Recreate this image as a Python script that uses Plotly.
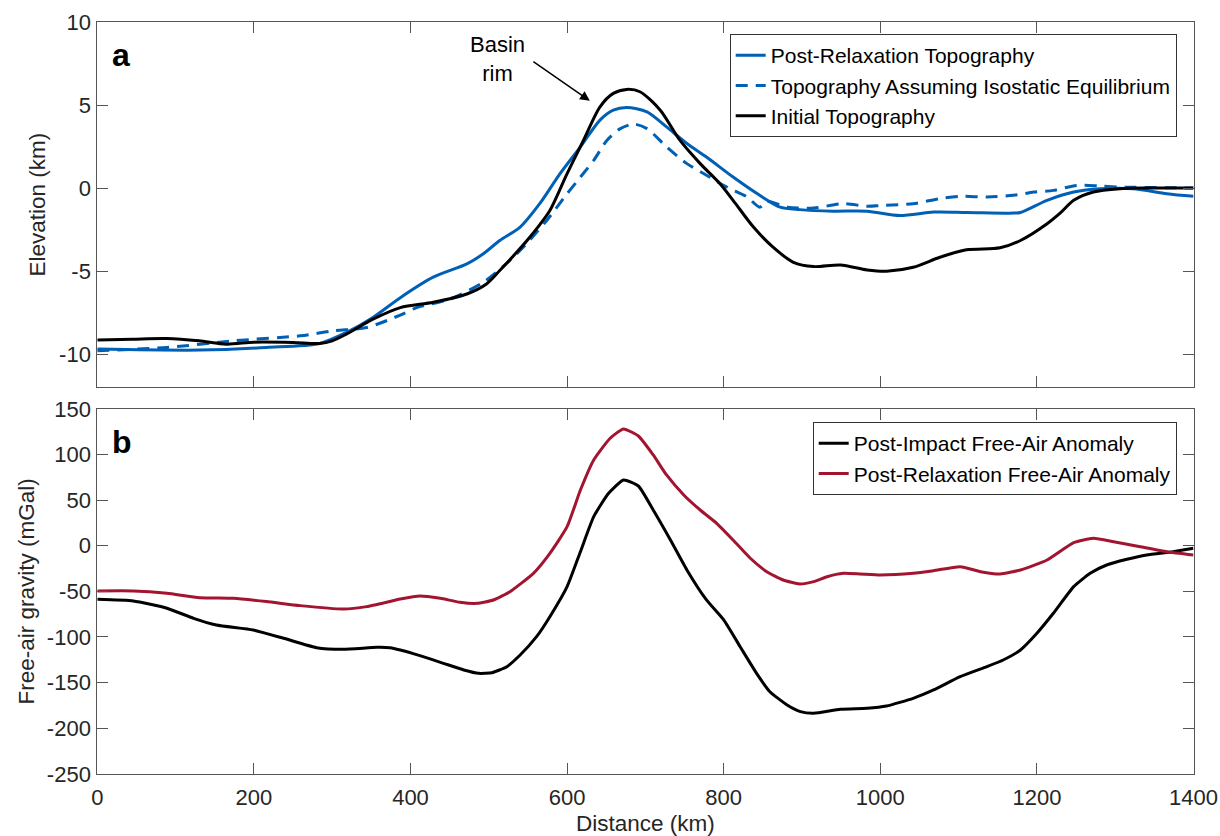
import plotly.graph_objects as go

# ---- Panel a: topography profiles (km) ----
initial_x = [0, 45, 89, 130, 165, 200, 250, 284, 300, 318, 352, 387, 429, 472, 497, 514, 535,
             556, 578, 600, 621, 642, 659, 676, 693, 719, 744, 770, 795, 812, 838, 863, 889,
             915, 949, 983, 1008, 1042, 1076, 1110, 1153, 1179, 1213, 1230, 1247, 1272, 1306,
             1340, 1400]
initial_z = [-9.15, -9.1, -9.06, -9.2, -9.4, -9.28, -9.3, -9.36, -9.2, -8.8, -7.9, -7.2, -6.88,
             -6.38, -5.78, -4.97, -3.9, -2.75, -1.35, 0.87, 2.88, 4.89, 5.7, 5.94, 5.8, 4.69,
             2.88, 1.47, 0.27, -0.74, -2.35, -3.56, -4.47, -4.73, -4.63, -4.93, -5.01, -4.77,
             -4.17, -3.72, -3.6, -3.16, -2.15, -1.5, -0.74, -0.24, -0.04, 0.0, 0.0]

relaxed_x = [0, 131, 216, 284, 318, 352, 387, 429, 472, 493, 514, 540, 565, 591, 617, 642, 659,
             676, 702, 727, 753, 778, 812, 846, 872, 897, 940, 983, 1025, 1068, 1110, 1170,
             1179, 1213, 1247, 1281, 1323, 1366, 1400]
relaxed_z = [-9.7, -9.76, -9.6, -9.36, -8.7, -7.79, -6.6, -5.37, -4.57, -3.96, -3.16, -2.35,
             -0.94, 0.87, 2.48, 4.09, 4.69, 4.85, 4.59, 3.68, 2.68, 1.87, 0.66, -0.44, -1.15,
             -1.3, -1.39, -1.39, -1.65, -1.45, -1.47, -1.51, -1.47, -0.74, -0.24, -0.04, -0.04,
             -0.34, -0.5]

isostatic_x = [0, 89, 174, 259, 301, 344, 387, 408, 451, 493, 522, 548, 574, 600, 617, 634, 651,
               668, 685, 702, 727, 753, 778, 804, 830, 846, 855, 881, 915, 953, 983, 1002, 1042,
               1076, 1102, 1136, 1170, 1196, 1221, 1251, 1281, 1306, 1366, 1400]
isostatic_z = [-9.8, -9.6, -9.2, -8.9, -8.6, -8.4, -7.65, -7.2, -6.68, -5.67, -4.57, -3.36,
               -1.95, -0.34, 0.66, 1.67, 2.88, 3.58, 3.85, 3.58, 2.48, 1.47, 0.77, 0.06, -0.54,
               -1.15, -0.8, -1.15, -1.2, -0.94, -1.1, -1.05, -0.94, -0.64, -0.5, -0.54, -0.44,
               -0.24, -0.14, 0.16, 0.12, 0.06, 0.02, 0.0]

# ---- Panel b: free-air gravity anomalies (mGal) ----
impact_x = [0, 46, 89, 123, 152, 199, 238, 280, 314, 357, 374, 387, 412, 442, 468, 487, 504,
            523, 540, 561, 578, 600, 617, 634, 653, 672, 691, 710, 732, 753, 778, 800, 821,
            842, 859, 881, 898, 915, 949, 983, 1008, 1042, 1068, 1102, 1136, 1157, 1179, 1200,
            1221, 1247, 1268, 1289, 1315, 1340, 1374, 1400]
impact_g = [-58.8, -60.6, -68.6, -79.6, -86.9, -92.4, -101.5, -111.8, -113.6, -111.4, -111.8,
            -114.3, -120.5, -128.9, -136.2, -139.9, -139.2, -132.6, -119.8, -99.7, -77.8, -44.9,
            -6.6, 31.8, 57.4, 72.0, 65.4, 39.1, 6.2, -26.6, -59.5, -81.4, -110.7, -139.9, -160.0,
            -174.6, -181.9, -183.7, -179.3, -178.2, -175.7, -167.3, -158.1, -143.6, -132.6,
            -125.3, -114.3, -96.0, -74.1, -44.9, -30.3, -21.2, -14.9, -10.2, -6.6, -2.9]

relax_x = [0, 46, 89, 131, 174, 216, 259, 314, 344, 387, 412, 438, 463, 485, 506, 527, 557,
           578, 600, 617, 634, 655, 672, 691, 710, 727, 749, 770, 791, 812, 834, 855, 876, 897,
           915, 932, 953, 974, 1000, 1042, 1068, 1102, 1128, 1153, 1179, 1213, 1247, 1272, 1298,
           1332, 1366, 1400]
relax_g = [-49.6, -49.6, -52.2, -57.0, -57.7, -61.3, -65.7, -69.4, -66.8, -58.5, -55.1, -57.7,
           -62.0, -63.2, -59.5, -50.4, -30.3, -8.4, 20.8, 61.0, 94.0, 117.7, 127.9, 120.2, 99.4,
           77.5, 55.6, 39.1, 24.5, 6.2, -13.8, -28.5, -37.6, -42.0, -39.4, -34.0, -30.3, -31.0,
           -32.1, -30.3, -27.4, -23.0, -28.5, -31.0, -26.6, -15.7, 3.3, 8.1, 4.4, -1.1, -6.6,
           -10.2]

elev_ticks = [-10, -5, 0, 5, 10]
grav_ticks = [-250, -200, -150, -100, -50, 0, 50, 100, 150]
dist_ticks = [0, 200, 400, 600, 800, 1000, 1200, 1400]

BLUE = "#0060B6"
RED = "#A2142F"
BLACK = "#000000"
AXIS = "#555555"
TEXT = "#262626"
FONT = "Liberation Sans, Arial, Helvetica, sans-serif"


def labels(vals):
    # plain hyphen for negative numbers
    return [str(v) for v in vals]


fig = go.Figure()

fig.add_trace(go.Scatter(x=relaxed_x, y=relaxed_z, name="Post-Relaxation Topography",
                         mode="lines", line=dict(color=BLUE, width=3, shape="spline", smoothing=0.8),
                         xaxis="x", yaxis="y", legend="legend"))
fig.add_trace(go.Scatter(x=isostatic_x, y=isostatic_z, name="Topography Assuming Isostatic Equilibrium",
                         mode="lines", line=dict(color=BLUE, width=3, dash="12px,8px",
                                                 shape="spline", smoothing=0.8),
                         xaxis="x", yaxis="y", legend="legend"))
fig.add_trace(go.Scatter(x=initial_x, y=initial_z, name="Initial Topography",
                         mode="lines", line=dict(color=BLACK, width=3, shape="spline", smoothing=0.8),
                         xaxis="x", yaxis="y", legend="legend"))

fig.add_trace(go.Scatter(x=impact_x, y=impact_g, name="Post-Impact Free-Air Anomaly",
                         mode="lines", line=dict(color=BLACK, width=3, shape="spline", smoothing=0.5),
                         xaxis="x2", yaxis="y2", legend="legend2"))
fig.add_trace(go.Scatter(x=relax_x, y=relax_g, name="Post-Relaxation Free-Air Anomaly",
                         mode="lines", line=dict(color=RED, width=3, shape="spline", smoothing=0.5),
                         xaxis="x2", yaxis="y2", legend="legend2"))

axis_common = dict(showline=True, linecolor=AXIS, linewidth=1, mirror="ticks",
                   ticks="inside", ticklen=11, tickcolor=AXIS, tickwidth=1,
                   showgrid=False, zeroline=False, automargin=False,
                   tickfont=dict(size=22, color=TEXT, family=FONT))

x_dom = [97.3 / 1220, 1193.5 / 1220]

fig.update_layout(
    width=1220, height=836,
    margin=dict(l=0, r=0, t=0, b=0),
    paper_bgcolor="white", plot_bgcolor="white",
    font=dict(family=FONT, color=TEXT, size=21),
    showlegend=True,
    xaxis=dict(domain=x_dom, range=[0, 1400], tickvals=dist_ticks, showticklabels=False,
               anchor="y", **axis_common),
    yaxis=dict(domain=[1 - 387.3 / 836, 1 - 22 / 836], range=[-12, 10], tickvals=elev_ticks,
               ticktext=labels(elev_ticks), anchor="x", ticklabelstandoff=1,
               title=dict(text="Elevation (km)", font=dict(size=22.5, color=TEXT), standoff=7),
               **axis_common),
    xaxis2=dict(domain=x_dom, range=[0, 1400], tickvals=dist_ticks, ticktext=labels(dist_ticks),
                anchor="y2", ticklabelstandoff=4,
                title=dict(text="Distance (km)", font=dict(size=22.5, color=TEXT), standoff=6),
                **axis_common),
    yaxis2=dict(domain=[1 - 773.8 / 836, 1 - 408.8 / 836], range=[-250, 150], tickvals=grav_ticks,
                ticktext=labels(grav_ticks), anchor="x2", ticklabelstandoff=1,
                title=dict(text="Free-air gravity (mGal)", font=dict(size=22.5, color=TEXT), standoff=5),
                **axis_common),
    legend=dict(x=1176.7 / 1220, y=1 - 34 / 836, xanchor="right", yanchor="top",
                bgcolor="white", bordercolor="#333333", borderwidth=1,
                font=dict(size=21, color=BLACK), tracegroupgap=0),
    legend2=dict(x=1176.7 / 1220, y=1 - 422 / 836, xanchor="right", yanchor="top",
                 bgcolor="white", bordercolor="#333333", borderwidth=1,
                 font=dict(size=21, color=BLACK), tracegroupgap=0),
)

# Panel letters
fig.add_annotation(x=0.012, y=0.965, xref="x domain", yref="y domain", text="<b>a</b>",
                   showarrow=False, xanchor="left", yanchor="top",
                   font=dict(size=32, color=BLACK, family=FONT))
fig.add_annotation(x=0.012, y=0.965, xref="x2 domain", yref="y2 domain", text="<b>b</b>",
                   showarrow=False, xanchor="left", yanchor="top",
                   font=dict(size=32, color=BLACK, family=FONT))

# Basin rim callout
fig.add_annotation(x=511, y=7.8, xref="x", yref="y", text="Basin<br>rim", showarrow=False,
                   font=dict(size=22, color=BLACK, family=FONT), align="center")
fig.add_annotation(x=629, y=5.25, ax=555, ay=7.67, xref="x", yref="y", axref="x", ayref="y",
                   text="", showarrow=True, arrowhead=2, arrowsize=1.3, arrowwidth=1.5,
                   arrowcolor=BLACK)

fig.write_html("out.html")
